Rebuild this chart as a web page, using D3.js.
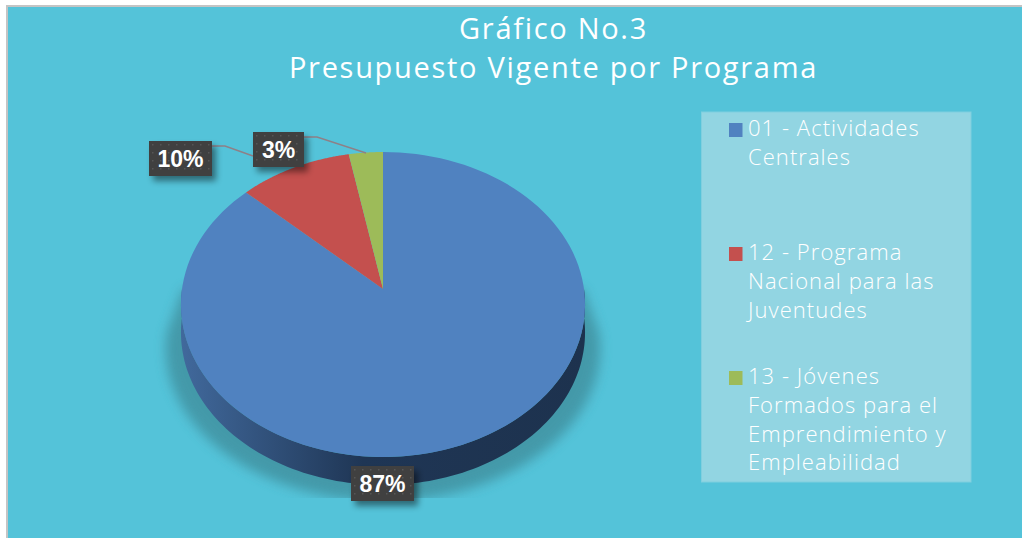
<!DOCTYPE html>
<html>
<head>
<meta charset="utf-8">
<script src="https://cdn.jsdelivr.net/npm/d3@7"></script>
<style>
  html, body { margin: 0; padding: 0; background: #fff; }
  svg { display: block; }
  text { font-family: "Open Sans", Lato, sans-serif; }
</style>
</head>
<body>
<svg width="1022" height="538"></svg>
<script>
const titleLines = ["Gráfico No.3", "Presupuesto Vigente por Programa"];
const programs = ["01 - Actividades Centrales", "12 - Programa Nacional para las Juventudes", "13 - Jóvenes Formados para el Emprendimiento y Empleabilidad"];
const shares = [87, 10, 3];
const sliceColours = ["#5082c0", "#c4504e", "#9dbb59"];
const legendLines = [
    ["01 - Actividades", "Centrales"],
    ["12 - Programa", "Nacional para las", "Juventudes"],
    ["13 - Jóvenes", "Formados para el", "Emprendimiento y", "Empleabilidad"]
];

const svg = d3.select("svg");
const defs = svg.append("defs");

// Pie is tilted, so the centre sits above the middle of the ellipse
const cx = 383, cy = 289, depth = 28;
const tilt = -0.1016, rx = 201, ry = 150.9;

function project(angle, r) {
    const u = Math.sin(angle) * r, v = -Math.cos(angle) * r;
    const w = 1 + tilt * v;
    return [cx + rx * u / w, cy + ry * v / w];
}

const line = d3.line();

function rimPoints(a0, a1) {
    return d3.range(0, 121).map(i => project(a0 + (a1 - a0) * i / 120, 1));
}

// Background, only the top and left edges carry a border
svg.append("rect")
    .attr("x", 7).attr("y", 6)
    .attr("width", 1015).attr("height", 532)
    .attr("fill", "#54c3d9");
svg.append("path")
    .attr("d", "M7,538V6H1022")
    .attr("fill", "none")
    .attr("stroke", "#c4c4c4").attr("stroke-width", 2);

// Titles
svg.append("g").selectAll("text")
    .data(titleLines)
    .join("text")
    .attr("x", 553.5)
    .attr("y", (d, i) => 39 + i * 39)
    .attr("text-anchor", "middle")
    .attr("font-size", 29)
    .attr("letter-spacing", 1.7)
    .attr("fill", "#fff")
    .text(d => d);

// Shadow under the pie, widens towards the ground and is cut off at the bottom
defs.append("filter").attr("id", "blur").attr("x", "-20%").attr("y", "-20%").attr("width", "140%").attr("height", "140%")
    .append("feGaussianBlur").attr("stdDeviation", 6);
defs.append("clipPath").attr("id", "shadowClip")
    .append("rect").attr("x", 150).attr("y", 270).attr("width", 470).attr("height", 228);

const shadowRim = rimPoints(Math.PI * 0.5, Math.PI * 1.5)
    .map(p => [cx + (p[0] - cx) * 1.075, p[1] + depth + 16]);
svg.append("g").attr("clip-path", "url(#shadowClip)")
    .append("path")
    .attr("d", line([[cx + rx - 1, cy]].concat(shadowRim, [[cx - rx + 1, cy]])) + "Z")
    .attr("fill", "#3f8f9e")
    .attr("opacity", 0.8)
    .attr("filter", "url(#blur)");

// Side wall of the pie
const sideGrad = defs.append("linearGradient").attr("id", "side")
    .attr("x1", 0).attr("x2", 1).attr("y1", 0).attr("y2", 0);
sideGrad.append("stop").attr("offset", "0%").attr("stop-color", "#41699c");
sideGrad.append("stop").attr("offset", "45%").attr("stop-color", "#1f3655");
sideGrad.append("stop").attr("offset", "100%").attr("stop-color", "#1d324e");

const rim = rimPoints(Math.PI * 0.5, Math.PI * 1.5);
svg.append("path")
    .attr("d", line(rim.concat(rim.slice().reverse().map(p => [p[0], p[1] + depth]))) + "Z")
    .attr("fill", "url(#side)");

// Slices
const pie = d3.pie().sort(null);
svg.append("g").selectAll("path")
    .data(pie(shares))
    .join("path")
    .attr("d", d => line([[cx, cy]].concat(rimPoints(d.startAngle, d.endAngle))) + "Z")
    .attr("fill", (d, i) => sliceColours[i]);

// Leader lines
const leaders = [
    [[212, 146], [225, 146], [253, 156]],
    [[304, 137], [317, 137], [366, 153]]
];
svg.append("g").selectAll("path")
    .data(leaders)
    .join("path")
    .attr("d", d => line(d))
    .attr("fill", "none")
    .attr("stroke", "#8e8087")
    .attr("stroke-width", 1.4);

// Data labels
const dots = defs.append("pattern").attr("id", "dots")
    .attr("width", 8).attr("height", 8).attr("patternUnits", "userSpaceOnUse");
dots.append("rect").attr("width", 8).attr("height", 8).attr("fill", "#3f3f3f");
dots.append("rect").attr("x", 3).attr("y", 3).attr("width", 1.5).attr("height", 1.5).attr("fill", "#565656");

const labelShadow = defs.append("filter").attr("id", "labelShadow")
    .attr("x", "-30%").attr("y", "-30%").attr("width", "170%").attr("height", "170%");
labelShadow.append("feDropShadow")
    .attr("dx", 4).attr("dy", 5).attr("stdDeviation", 3)
    .attr("flood-color", "#000").attr("flood-opacity", 0.45);

const labelBoxes = [
    { x: 351, y: 466, w: 63 },
    { x: 149, y: 141, w: 63 },
    { x: 253, y: 132, w: 51 }
];
const label = svg.append("g").selectAll("g")
    .data(shares)
    .join("g")
    .attr("transform", (d, i) => `translate(${labelBoxes[i].x},${labelBoxes[i].y})`);
label.append("rect")
    .attr("width", (d, i) => labelBoxes[i].w)
    .attr("height", 35)
    .attr("fill", "url(#dots)")
    .attr("filter", "url(#labelShadow)");
label.append("text")
    .attr("x", (d, i) => labelBoxes[i].w / 2)
    .attr("y", 26)
    .attr("text-anchor", "middle")
    .style("font-family", "Liberation Sans")
    .attr("font-weight", "bold")
    .attr("font-size", 23)
    .attr("fill", "#fff")
    .text(d => d + "%");

// Legend
svg.append("rect")
    .attr("x", 701.5).attr("y", 112)
    .attr("width", 269.5).attr("height", 370)
    .attr("fill", "#92d5e2")
    .attr("stroke", "#7fcfdf").attr("stroke-width", 1);

const legendY = [123, 247, 371];
const legend = svg.append("g").selectAll("g")
    .data(programs)
    .join("g")
    .attr("transform", (d, i) => `translate(729,${legendY[i]})`);
legend.append("rect")
    .attr("width", 13.5).attr("height", 14)
    .attr("fill", (d, i) => sliceColours[i]);
legend.append("text")
    .attr("fill", "#fff")
    .attr("font-size", 22)
    .attr("font-weight", 300)
    .attr("letter-spacing", 1.05)
    .selectAll("tspan")
    .data((d, i) => legendLines[i])
    .join("tspan")
    .attr("x", 19)
    .attr("y", (d, i) => 13 + i * 28.8)
    .text(d => d);
</script>
</body>
</html>
